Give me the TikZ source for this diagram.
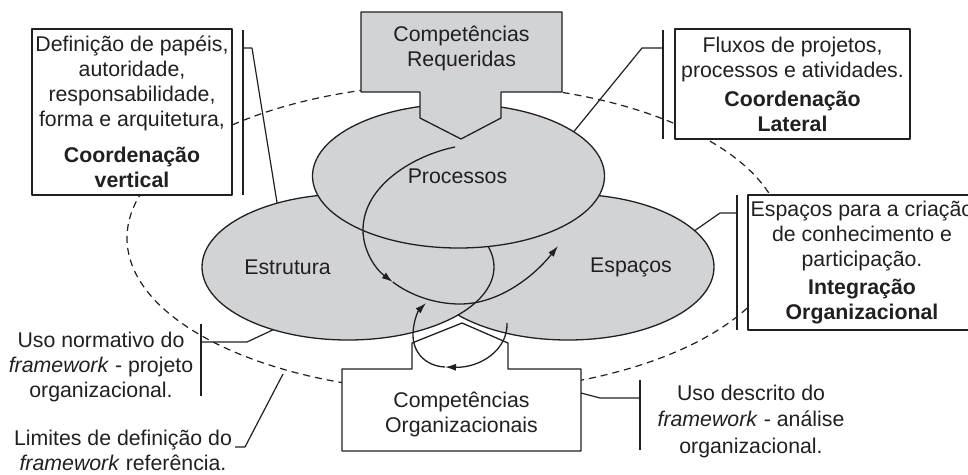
\documentclass[tikz,border=0pt]{standalone}
\usepackage{fontspec}
\setmainfont{Liberation Sans}
\usetikzlibrary{shapes.geometric,arrows.meta,calc}
\definecolor{fillgray}{RGB}{210,211,213}
\definecolor{ink}{RGB}{35,31,32}
\begin{document}
\begin{tikzpicture}[x=1pt,y=-1pt,line join=round,
  every node/.style={font=\fontsize{21.3}{25}\selectfont, text=ink},
  oval/.style={ellipse, draw=ink, fill=fillgray, line width=1.3pt, inner sep=0pt, outer sep=0pt, minimum width=292pt, minimum height=146pt},
  txtbox/.style={draw=ink, fill=white, line width=1.3pt, inner sep=1pt, outer sep=0pt, align=center},
  lead/.style={draw=ink, line width=1.2pt},
  arr/.style={draw=ink, line width=1.3pt, -{Latex[length=11pt,width=7pt]}},
  shapeline/.style={draw=ink, line width=1.3pt},
  label/.style={inner sep=0pt, align=center}
]
\clip (0,0) rectangle (968,474);

% boundary of the framework
\node[ellipse, draw=ink, dash pattern=on 7pt off 5pt, line width=1.2pt, inner sep=0pt, outer sep=0pt,
      minimum width=656pt, minimum height=308pt] (lim) at (455,238) {};
\coordinate (limpt) at (283,374);

% three ovals
\node[oval] (esp) at (568,267) {};
\node[oval] (estr) at (348,267) {};
\node[oval, minimum height=144pt] (proc) at (458.5,176) {};

% Competencias Requeridas arrow
\draw[shapeline, fill=fillgray] (361,12) -- (562,12) -- (562,92) -- (501,92) -- (501,118) -- (461,139)
  -- (420,118) -- (420,92) -- (361,92) -- cycle;
\node[label] (cr) at (461.5,48) {Competências\\Requeridas};

% Competencias Organizacionais arrow
\draw[shapeline, fill=white] (342,369) -- (412,369) -- (412,343) -- (462,323) -- (508,343) -- (508,369)
  -- (581,369) -- (581,451) -- (342,451) -- cycle;
\node[label] (co) at (461.5,414) {Competências\\Organizacionais};
\coordinate (coe) at (581,393);

% big curved arrow
\coordinate (a0) at (455,147);
\coordinate (a1) at (363,230);
\coordinate (a2) at (392.75,282);
\coordinate (a3) at (460,304);
\coordinate (a4) at (558,246);
\draw[arr] (a0) .. controls (415,155) and (363,185) .. (a1) .. controls (363,250) and (374.75,268.5) .. (a2);
\draw[arr] (a2) .. controls (410.75,295.5) and (435,304) .. (a3) .. controls (500,304) and (535,275) .. (a4);

% small curved arrow
\coordinate (c0) at (507,323);
\coordinate (c1) at (445,367);
\coordinate (c2) at (413,335);
\coordinate (c3) at (426,303);
\draw[arr] (c0) .. controls (508,350) and (480,368) .. (c1);
\draw[arr] (c1) .. controls (425,366) and (413,352) .. (c2) .. controls (413,322) and (418,311) .. (c3);

% labels in ovals
\node[label] (lproc) at (457.5,176) {Processos};
\node[label] (lestr) at (287.5,267) {Estrutura};
\node[label] (lesp) at (631,267) {Espaços};

% text boxes
\node[txtbox, minimum width=200pt, minimum height=166pt] (tl) at (132,112)
  {Definição de papéis,\\autoridade,\\responsabilidade,\\forma e arquitetura,\\[11pt]
   \textbf{Coordenação}\\\textbf{vertical}};
\node[txtbox, minimum width=235pt, minimum height=110pt] (tr) at (792.5,84)
  {Fluxos de projetos,\\processos e atividades.\\[4pt]\textbf{Coordenação}\\\textbf{Lateral}};
\node[txtbox, minimum width=228pt, minimum height=135pt] (rt) at (862,262.5)
  {Espaços para a criação\\de conhecimento e\\participação.\\[3pt]\textbf{Integração}\\\textbf{Organizacional}};

% free texts
\node[label] (un) at (101,367) {Uso normativo do\\\textit{framework} - projeto\\organizacional.};
\node[label] (ud) at (751,421) {Uso descrito do\\[1.5pt]\textit{framework} - análise\\[1.5pt]organizacional.};
\node[label] (li) at (123,450) {Limites de definição do\\\textit{framework} referência.};

% brackets and leaders
\coordinate (b1a) at (243,30); \coordinate (b1b) at (243,195); \coordinate (b1c) at (243,48); \coordinate (b1d) at (252,48);
\draw[lead] (b1a) -- (b1b);
\draw[lead] (b1c) -- (b1d) -- (estr.138);

\coordinate (b2a) at (663,30); \coordinate (b2b) at (663,139); \coordinate (b2c) at (663,48); \coordinate (b2d) at (642,48);
\draw[lead] (b2a) -- (b2b);
\draw[lead] (b2c) -- (b2d) -- (proc.21);

\coordinate (b3a) at (737,195); \coordinate (b3b) at (737,330); \coordinate (b3c) at (737,213); \coordinate (b3d) at (720,213);
\draw[lead] (b3a) -- (b3b);
\draw[lead] (b3c) -- (b3d) -- (esp.16);

\coordinate (b4a) at (201,324); \coordinate (b4b) at (201,396); \coordinate (b4c) at (201,342); \coordinate (b4d) at (247,342);
\draw[lead] (b4a) -- (b4b);
\draw[lead] (b4c) -- (b4d) -- (estr.220);

\coordinate (b5a) at (640,380); \coordinate (b5b) at (640,450); \coordinate (b5c) at (640,398); \coordinate (b5d) at (600,398);
\draw[lead] (b5a) -- (b5b);
\draw[lead] (b5c) -- (b5d) -- (coe);

\coordinate (b6a) at (235,447); \coordinate (b6b) at (245,447);
\draw[lead] (b6a) -- (b6b) -- (limpt);
\end{tikzpicture}
\end{document}
